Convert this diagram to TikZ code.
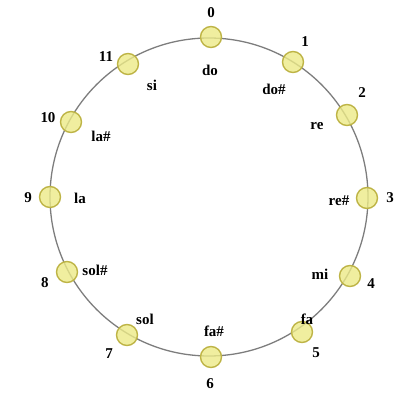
\documentclass[tikz,border=0pt]{standalone}
\usepackage{fontspec}
\setmainfont{Liberation Serif}
\definecolor{ring}{RGB}{125,125,125}
\definecolor{nfill}{RGB}{236,234,135}
\definecolor{ndraw}{RGB}{190,180,70}
\tikzset{
  pitch/.style={circle, minimum size=21pt, inner sep=0pt, fill=nfill, fill opacity=0.8, draw=ndraw, line width=1.4pt},
  num/.style={font=\fontsize{15}{17}\selectfont\bfseries, inner sep=0pt},
  nom/.style={font=\fontsize{15}{17}\selectfont\bfseries, inner sep=0pt}
}
\begin{document}
\begin{tikzpicture}[x=1pt,y=-1pt]
\useasboundingbox (0,0) rectangle (405,398);
\coordinate (c) at (209,197);
\draw[ring, line width=1.3pt] (c) circle[radius=159];
\foreach \k/\x/\y in {0/211/37,1/293/62,2/347/115,3/367/198,4/350/276,5/302/332,6/211/357,7/127/335,8/67/272,9/50/197,10/71/122,11/128/64}
  \node[pitch] (p\k) at (\x,\y) {};
\foreach \k/\x/\y in {0/211/13,1/305/42,2/362/93,3/390/198,4/371/284,5/316/353,6/210/384,7/109/354,8/45/283,9/28/198,10/48/118,11/106/57}
  \node[num] (n\k) at (\x,\y) {\k};
\node[nom] (s0) at (210,70) {do};
\node[nom] (s1) at (274,89) {do\#};
\node[nom] (s2) at (317,126) {re};
\node[nom] (s3) at (339,201) {re\#};
\node[nom] (s4) at (320,274) {mi};
\node[nom] (s5) at (307,319) {fa};
\node[nom] (s6) at (214,331) {fa\#};
\node[nom] (s7) at (145,319) {sol};
\node[nom] (s8) at (95,270) {sol\#};
\node[nom] (s9) at (80,198) {la};
\node[nom] (s10) at (101,136) {la\#};
\node[nom] (s11) at (152,85) {si};
\end{tikzpicture}
\end{document}
